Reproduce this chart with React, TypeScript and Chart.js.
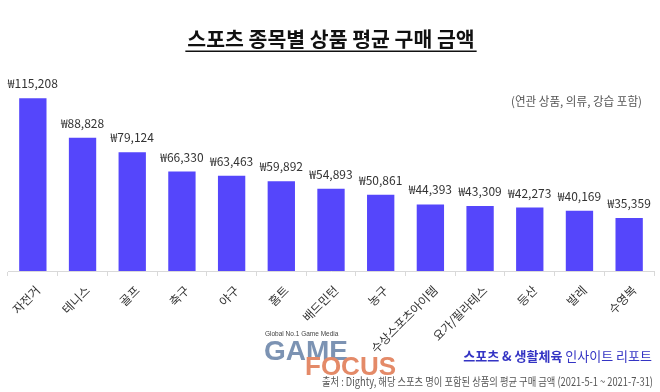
import React, { useEffect, useRef } from "react";
import { Chart, registerables } from "chart.js";

Chart.register(...registerables);

const categories = ["자전거", "테니스", "골프", "축구", "야구", "홈트", "배드민턴", "농구", "수상스포츠아이템", "요가/필라테스", "등산", "발레", "수영복"];
const values = [115208, 88828, 79124, 66330, 63463, 59892, 54893, 50861, 44393, 43309, 42273, 40169, 35359];
const titleText = "스포츠 종목별 상품 평균 구매 금액";
const subtitleText = "(연관 상품, 의류, 강습 포함)";
const footerBold = "스포츠 & 생활체육";
const footerNormal = " 인사이트 리포트";
const sourceText = "출처 : Dighty, 해당 스포츠 명이 포함된 상품의 평균 구매 금액 (2021-5-1 ~ 2021-7-31)";

const FONT = "'Noto Sans CJK KR', 'Noto Sans', sans-serif";

const textPlugin = {
  id: "texts",
  afterDatasetsDraw(chart: any) {
    const ctx = chart.ctx;
    const meta = chart.getDatasetMeta(0);
    ctx.save();
    ctx.font = `12px ${FONT}`;
    ctx.fillStyle = "#333";
    ctx.textAlign = "center";
    ctx.textBaseline = "alphabetic";
    meta.data.forEach((bar: any, i: number) => {
      ctx.fillText("₩" + values[i].toLocaleString("en-US"), bar.x, bar.y - 10);
    });
    ctx.restore();
  },
  afterDraw(chart: any) {
    const ctx = chart.ctx;
    ctx.save();
    // title
    ctx.font = `bold 20.5px ${FONT}`;
    ctx.fillStyle = "#111";
    ctx.textAlign = "center";
    ctx.textBaseline = "alphabetic";
    ctx.fillText(titleText, 331, 47);
    const tw = ctx.measureText(titleText).width;
    ctx.fillRect(331 - tw / 2 - 2, 50.5, tw + 4, 1.5);
    // subtitle
    ctx.font = `12px ${FONT}`;
    ctx.fillStyle = "#555";
    ctx.textAlign = "right";
    ctx.fillText(subtitleText, 642, 106, 131);
    // logo
    ctx.textAlign = "left";
    ctx.font = `6.5px 'Liberation Sans', sans-serif`;
    ctx.fillStyle = "#444";
    ctx.fillText("Global No.1 Game Media", 265, 336);
    ctx.font = `bold 28px 'Liberation Sans', sans-serif`;
    ctx.fillStyle = "#7c93b3";
    ctx.fillText("GAME", 264, 360);
    ctx.font = `bold 26px 'Liberation Sans', sans-serif`;
    ctx.fillStyle = "#e48a68";
    ctx.fillText("FOCUS", 305, 375);
    // footer
    ctx.font = `13px ${FONT}`;
    const nw = ctx.measureText(footerNormal).width;
    ctx.fillStyle = "#3434c4";
    ctx.textAlign = "right";
    ctx.fillText(footerNormal, 652, 361);
    ctx.font = `bold 13px ${FONT}`;
    ctx.fillText(footerBold, 652 - nw, 361);
    // source
    ctx.font = `11.5px ${FONT}`;
    ctx.fillStyle = "#555";
    ctx.fillText(sourceText, 653, 386, 331);
    ctx.restore();
  },
};

export default function App() {
  const ref = useRef<HTMLCanvasElement>(null);
  useEffect(() => {
    document.body.style.margin = "0";
    const chart = new Chart(ref.current!, {
      type: "bar",
      data: {
        labels: categories,
        datasets: [
          {
            data: values,
            backgroundColor: "#5546fb",
            barPercentage: 0.55,
            categoryPercentage: 1,
          },
        ],
      },
      options: {
        animation: false,
        responsive: false,
        layout: { padding: { top: 61, left: 8, right: 6, bottom: 0 } },
        plugins: { legend: { display: false }, tooltip: { enabled: false } },
        scales: {
          y: { display: false, min: 0, max: 140000 },
          x: {
            afterFit: (s: any) => {
              s.height = 121;
            },
            border: { display: true, color: "#d9d9d9" },
            grid: { offset: true, drawOnChartArea: false, color: "#d9d9d9", tickLength: 5 },
            ticks: {
              minRotation: 45,
              maxRotation: 45,
              autoSkip: false,
              color: "#333",
              font: { family: FONT, size: 12 },
              padding: 7,
              labelOffset: 5,
            },
          },
        },
      },
      plugins: [textPlugin],
    });
    return () => chart.destroy();
  }, []);
  return <canvas ref={ref} width={660} height={392} style={{ display: "block" }} />;
}
